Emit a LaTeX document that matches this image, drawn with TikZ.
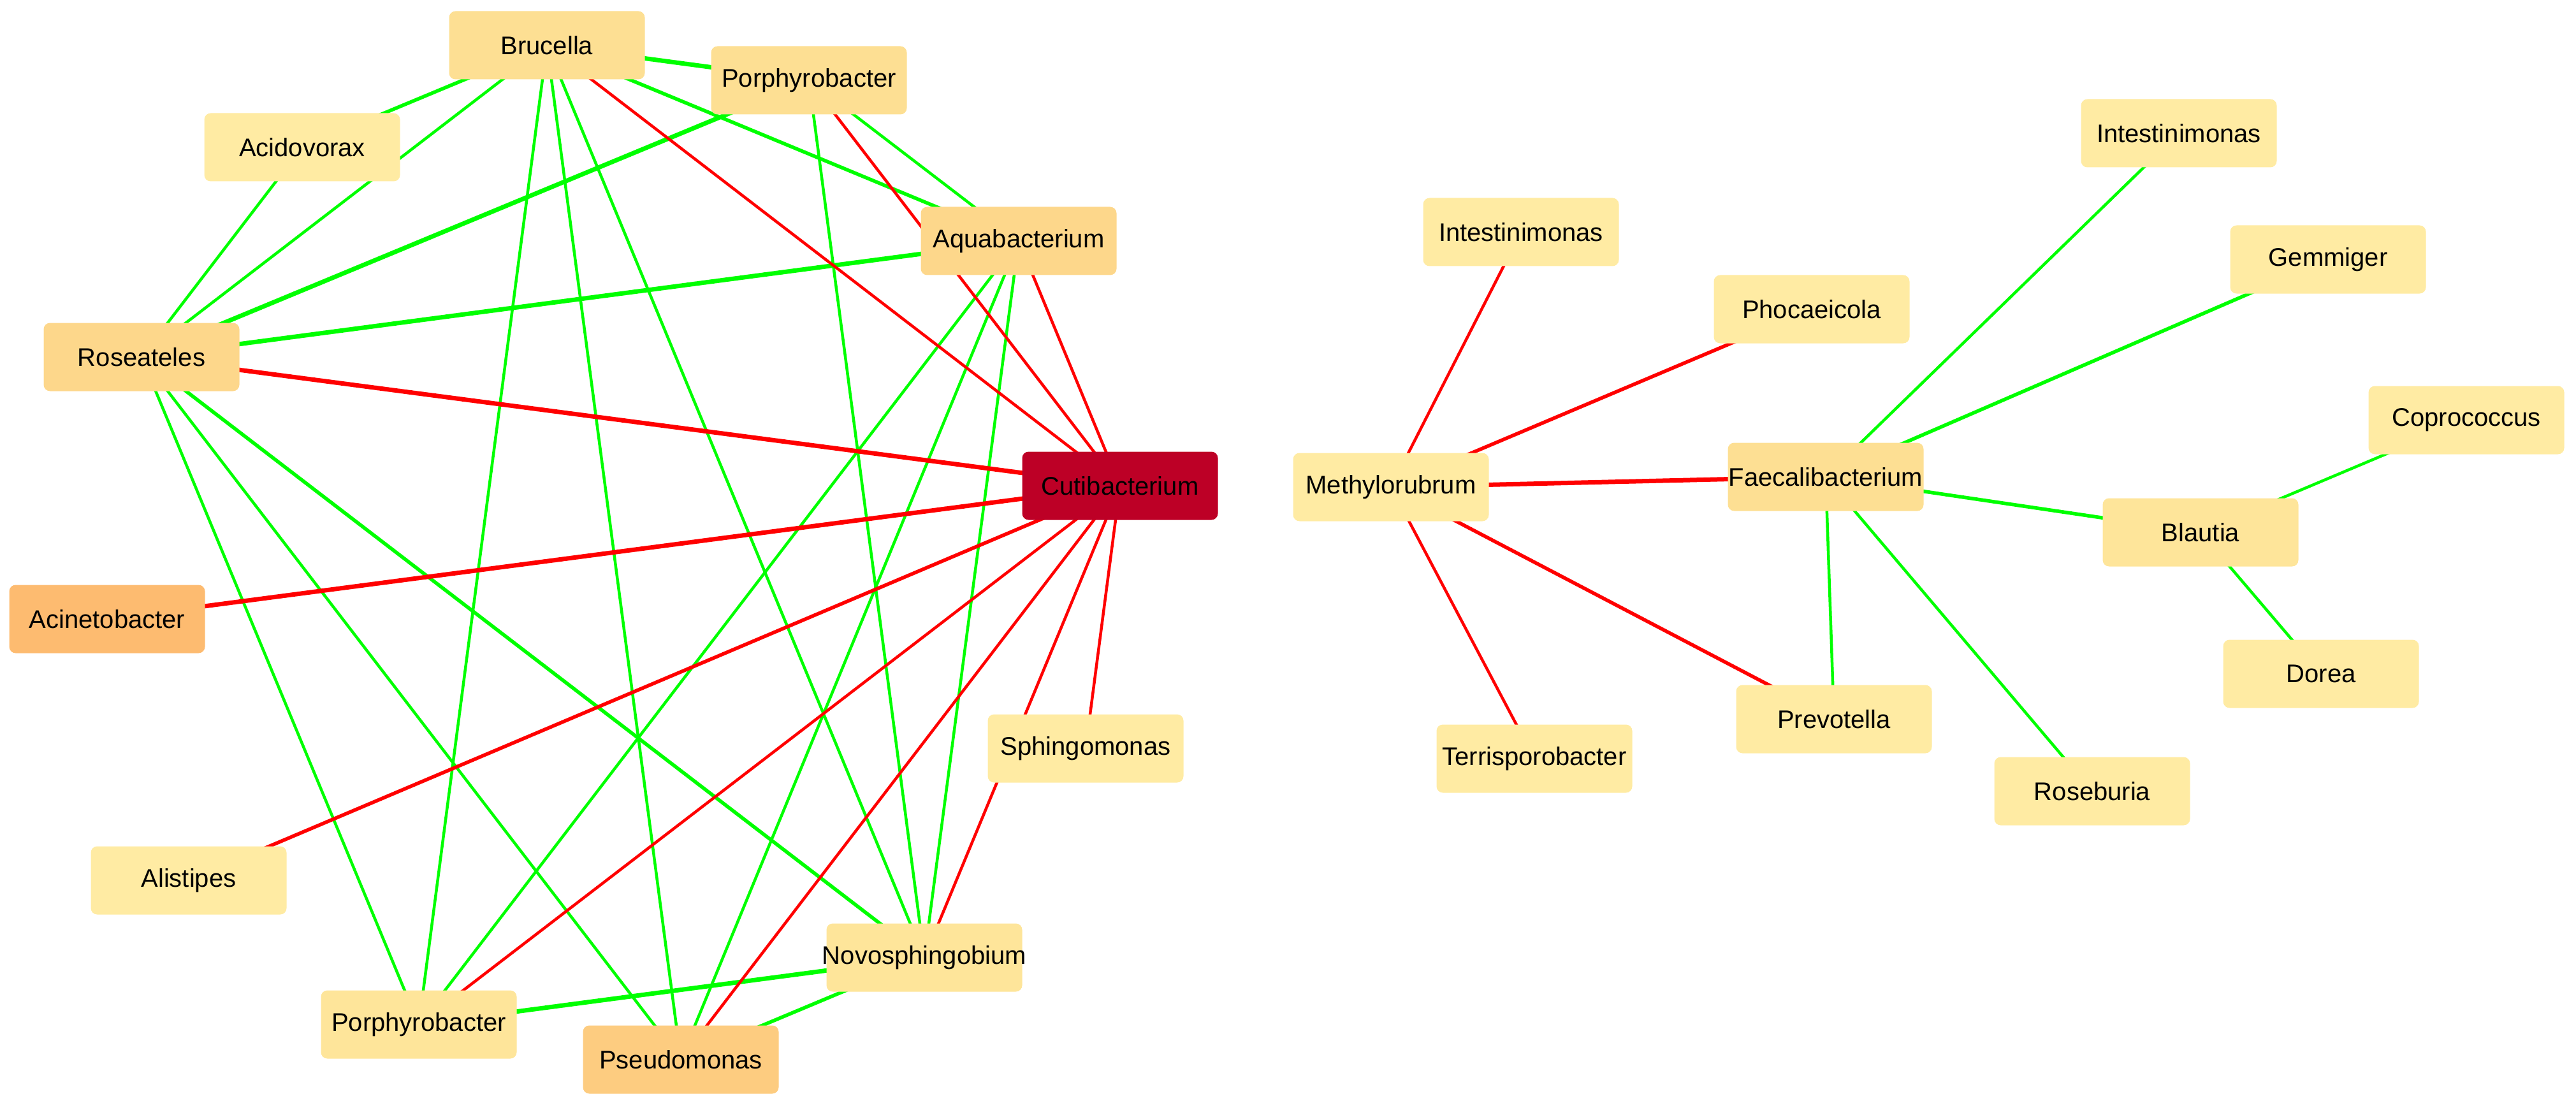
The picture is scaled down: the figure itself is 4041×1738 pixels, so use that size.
\documentclass[tikz,border=0pt]{standalone}
\usepackage{fontspec}
\setmainfont{Liberation Sans}
\pgfdeclarelayer{bg}
\pgfsetlayers{bg,main}
\definecolor{cA}{HTML}{FFEBA3}
\definecolor{cB}{HTML}{FEE59A}
\definecolor{cC}{HTML}{FDDF93}
\definecolor{cD}{HTML}{FDD78B}
\definecolor{cE}{HTML}{FDCC80}
\definecolor{cF}{HTML}{FDBB70}
\definecolor{cCuti}{HTML}{BD0026}
\definecolor{eR}{HTML}{FF0000}
\definecolor{eG}{HTML}{00FF00}
\tikzset{
  taxon/.style={rectangle, rounded corners=5pt, minimum width=153.5pt, minimum height=53.5pt, inner sep=0pt, font=\fontsize{20}{24}\selectfont, text=black},
  negedge/.style={draw=eR, line width=2.25pt},
  posedge/.style={draw=eG, line width=2.25pt},
  midw/.style={line width=2.8pt},
  thkw/.style={line width=3.5pt}
}
\begin{document}
\begin{tikzpicture}[x=0.5pt,y=-0.5pt]
\useasboundingbox (0,0) rectangle (4041,1738);
% left cluster
\node[taxon, fill=cC] (bru) at (858,71) {Brucella};
\node[taxon, fill=cC] (porT) at (1269,126) {Porphyrobacter};
\node[taxon, fill=cA] (aci) at (474,231) {Acidovorax};
\node[taxon, fill=cD] (aqu) at (1598,378) {Aquabacterium};
\node[taxon, fill=cD] (ros) at (222,560) {Roseateles};
\node[taxon, fill=cCuti] (cut) at (1757,762) {Cutibacterium};
\node[taxon, fill=cF] (acn) at (168,971) {Acinetobacter};
\node[taxon, fill=cA] (ali) at (296,1381) {Alistipes};
\node[taxon, fill=cA] (sph) at (1703,1174) {Sphingomonas};
\node[taxon, fill=cB] (nov) at (1450,1502) {\makebox[0pt][c]{Novosphingobium}};
\node[taxon, fill=cB] (porB) at (657,1607) {Porphyrobacter};
\node[taxon, fill=cE] (pse) at (1068,1662) {Pseudomonas};
% right cluster
\node[taxon, fill=cA] (intL) at (2386,364) {Intestinimonas};
\node[taxon, fill=cA] (pho) at (2842,485) {Phocaeicola};
\node[taxon, fill=cA] (met) at (2182,764) {Methylorubrum};
\node[taxon, fill=cC] (fae) at (2864,748) {\makebox[0pt][c]{Faecalibacterium}};
\node[taxon, fill=cA] (intR) at (3418,209) {Intestinimonas};
\node[taxon, fill=cA] (gem) at (3652,407) {Gemmiger};
\node[taxon, fill=cA] (cop) at (3869,659) {Coprococcus};
\node[taxon, fill=cB] (bla) at (3452,835) {Blautia};
\node[taxon, fill=cA] (dor) at (3641,1057) {Dorea};
\node[taxon, fill=cA] (pre) at (2877,1128) {Prevotella};
\node[taxon, fill=cA] (ter) at (2407,1190) {Terrisporobacter};
\node[taxon, fill=cA] (rsb) at (3282,1241) {Roseburia};
\begin{pgfonlayer}{bg}
% green edges, left
\draw[posedge, thkw] (bru.center) -- (porT.center);
\draw[posedge, midw] (bru.center) -- (aci.center);
\draw[posedge] (bru.center) -- (ros.center);
\draw[posedge] (aci.center) -- (ros.center);
\draw[posedge, thkw] (porT.center) -- (ros.center);
\draw[posedge, midw] (bru.center) -- (aqu.center);
\draw[posedge] (porT.center) -- (aqu.center);
\draw[posedge, thkw] (aqu.center) -- (ros.center);
\draw[posedge] (bru.center) -- (porB.center);
\draw[posedge] (bru.center) -- (pse.center);
\draw[posedge] (bru.center) -- (nov.center);
\draw[posedge] (ros.center) -- (porB.center);
\draw[posedge] (ros.center) -- (pse.center);
\draw[posedge, midw] (ros.center) -- (nov.center);
\draw[posedge] (aqu.center) -- (porB.center);
\draw[posedge] (porT.center) -- (nov.center);
\draw[posedge] (aqu.center) -- (pse.center);
\draw[posedge] (aqu.center) -- (nov.center);
\draw[posedge, thkw] (porB.center) -- (nov.center);
\draw[posedge, midw] (pse.center) -- (nov.center);
% red edges, left
\draw[negedge] (bru.center) -- (cut.center);
\draw[negedge] (porT.center) -- (cut.center);
\draw[negedge] (aqu.center) -- (cut.center);
\draw[negedge, thkw] (ros.center) -- (cut.center);
\draw[negedge, thkw] (acn.center) -- (cut.center);
\draw[negedge, midw] (ali.center) -- (cut.center);
\draw[negedge] (porB.center) -- (cut.center);
\draw[negedge] (pse.center) -- (cut.center);
\draw[negedge] (nov.center) -- (cut.center);
\draw[negedge] (sph.center) -- (cut.center);
% right cluster
\draw[negedge] (met.center) -- (intL.center);
\draw[negedge, midw] (met.center) -- (pho.center);
\draw[negedge, thkw] (met.center) -- (fae.center);
\draw[negedge, midw] (met.center) -- (pre.center);
\draw[negedge] (met.center) -- (ter.center);
\draw[posedge] (fae.center) -- (intR.center);
\draw[posedge, midw] (fae.center) -- (gem.center);
\draw[posedge, midw] (fae.center) -- (bla.center);
\draw[posedge] (fae.center) -- (pre.center);
\draw[posedge] (fae.center) -- (rsb.center);
\draw[posedge] (bla.center) -- (cop.center);
\draw[posedge] (bla.center) -- (dor.center);
\end{pgfonlayer}
\end{tikzpicture}
\end{document}
